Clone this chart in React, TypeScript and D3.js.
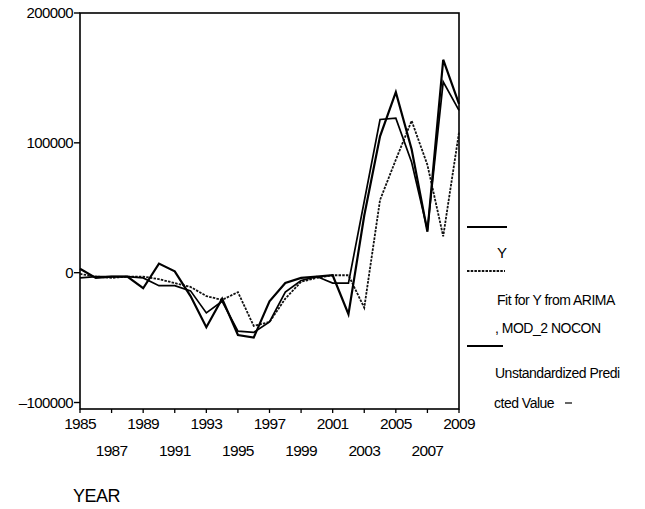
import React from "react";
import * as d3 from "d3";

const years = [
  1985, 1986, 1987, 1988, 1989, 1990, 1991, 1992, 1993, 1994, 1995, 1996, 1997,
  1998, 1999, 2000, 2001, 2002, 2003, 2004, 2005, 2006, 2007, 2008, 2009,
];

// Y (actual)
const actualY = [
  3000, -4000, -3000, -3000, -12000, 7000, 1000, -18000, -42000, -20000, -48000,
  -50000, -22000, -8000, -4000, -3000, -2000, -32000, 44000, 105000, 139000,
  95000, 31500, 164000, 130000,
];

// Fit for Y from ARIMA, MOD_2 NOCON
const fitArima = [
  -1000, -3000, -4000, -3000, -3000, -5000, -8000, -11000, -18000, -21000,
  -15000, -41000, -38000, -20000, -7000, -4000, -2000, -2000, -27000, 56000,
  87000, 117000, 83000, 28000, 108000,
];

// Unstandardized Predicted Value
const predicted = [
  -4000, -3000, -3000, -3000, -4000, -10000, -10000, -14000, -31000, -22000,
  -45000, -46000, -38000, -15000, -6000, -3000, -8000, -8000, 55000, 118000,
  119000, 85000, 33000, 147000, 125000,
];

const yTicks = [-100000, 0, 100000, 200000];
const xLabelsRow1 = [1985, 1989, 1993, 1997, 2001, 2005, 2009];
const xLabelsRow2 = [1987, 1991, 1995, 1999, 2003, 2007];
const legendItems = ["Y", "Fit for Y from ARIMA", ", MOD_2 NOCON", "Unstandardized Predi", "cted Value"];

const FONT = "'Liberation Sans', Arial, Helvetica, sans-serif";

export default function App() {
  const left = 80;
  const right = 459;
  const top = 13;
  const bottom = 409;
  const x = d3.scaleLinear().domain([1985, 2009]).range([left, right]);
  const y = d3.scaleLinear().domain([-105000, 200000]).range([bottom, top]);
  const line = d3
    .line<number>()
    .x((_, i) => x(years[i]))
    .y((d) => y(d));

  const allTicks = [...xLabelsRow1, ...xLabelsRow2];

  return (
    <svg
      width={645}
      height={509}
      style={{ position: "fixed", top: 0, left: 0, background: "#fff" }}
      fontFamily={FONT}
    >
      <rect x={0} y={0} width={645} height={509} fill="#fff" />
      {/* frame */}
      <rect
        x={left}
        y={top}
        width={right - left}
        height={bottom - top}
        fill="none"
        stroke="#000"
        strokeWidth={1.6}
      />
      {/* y ticks */}
      {yTicks.map((t) => (
        <g key={t}>
          <line x1={left - 6} x2={left} y1={y(t)} y2={y(t)} stroke="#000" strokeWidth={1.4} />
          <text
            x={left - 7}
            y={y(t) + 5}
            textAnchor="end"
            fontSize={15}
            letterSpacing={-0.6}
            fill="#000"
          >
            {t < 0 ? "\u2013" + Math.abs(t) : String(t)}
          </text>
        </g>
      ))}
      {/* x ticks */}
      {allTicks.map((t) => (
        <line key={t} x1={x(t)} x2={x(t)} y1={bottom} y2={bottom + 4} stroke="#000" strokeWidth={1.3} />
      ))}
      {xLabelsRow1.map((t) => (
        <text key={t} x={x(t)} y={429} textAnchor="middle" fontSize={15.5} letterSpacing={-0.7} fill="#000">
          {t}
        </text>
      ))}
      {xLabelsRow2.map((t) => (
        <text key={t} x={x(t)} y={456} textAnchor="middle" fontSize={15.5} letterSpacing={-0.7} fill="#000">
          {t}
        </text>
      ))}
      <text x={73} y={502} fontSize={18} letterSpacing={-0.5} fill="#000">
        YEAR
      </text>

      {/* series */}
      <path d={line(fitArima) ?? ""} fill="none" stroke="#111" strokeWidth={1.8} strokeDasharray="2.5,1.2" />
      <path d={line(predicted) ?? ""} fill="none" stroke="#000" strokeWidth={1.7} strokeLinejoin="miter" />
      <path d={line(actualY) ?? ""} fill="none" stroke="#000" strokeWidth={2.2} strokeLinejoin="miter" />

      {/* legend */}
      <line x1={467} x2={507} y1={227} y2={227} stroke="#000" strokeWidth={2} />
      <text x={497} y={258} fontSize={15} fill="#000">
        {legendItems[0]}
      </text>
      <line x1={467} x2={505} y1={271} y2={271} stroke="#111" strokeWidth={1.8} strokeDasharray="2.5,1.2" />
      <text x={497} y={305} fontSize={14} letterSpacing={-0.5} fill="#000">
        {legendItems[1]}
      </text>
      <text x={495} y={333} fontSize={14} letterSpacing={-0.5} fill="#000">
        {legendItems[2]}
      </text>
      <line x1={467} x2={503} y1={346} y2={346} stroke="#000" strokeWidth={1.8} />
      <text x={495} y={378} fontSize={14} letterSpacing={-0.5} fill="#000">
        {legendItems[3]}
      </text>
      <text x={494} y={408} fontSize={14} letterSpacing={-0.5} fill="#000">
        {legendItems[4]}
      </text>
      <line x1={565} x2={572} y1={403} y2={403} stroke="#000" strokeWidth={1.2} />
    </svg>
  );
}
